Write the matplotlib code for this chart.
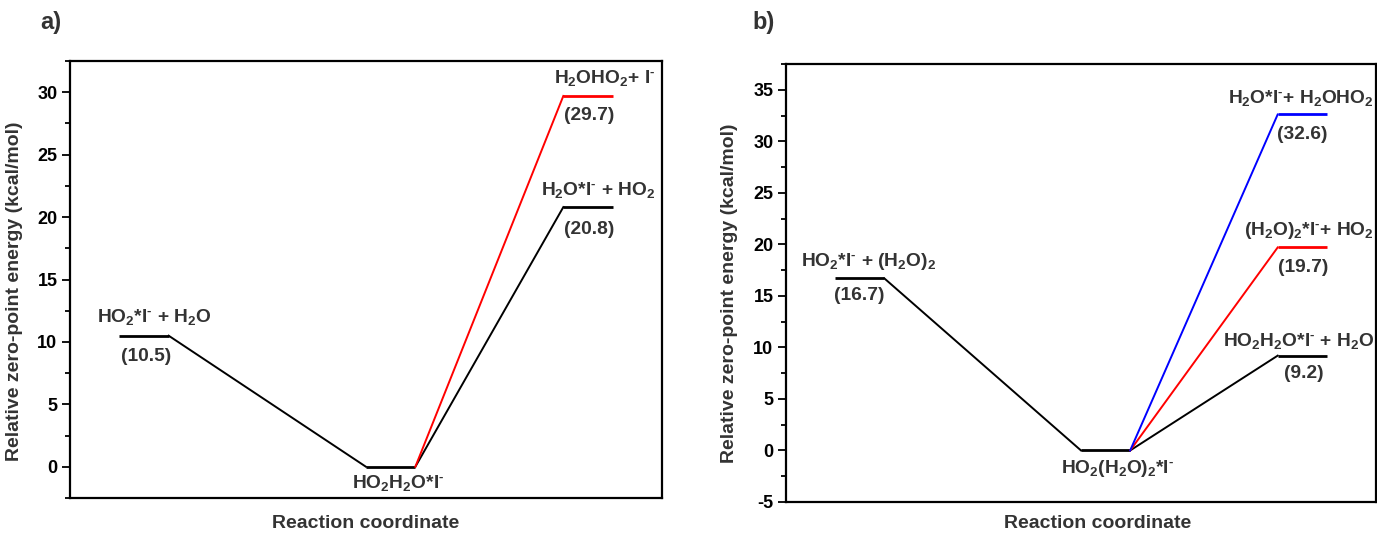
import matplotlib
matplotlib.use("Agg")
import matplotlib.pyplot as plt
from matplotlib.ticker import MultipleLocator

plt.rcParams['font.family'] = ['Liberation Sans', 'DejaVu Sans']
plt.rcParams['font.weight'] = 'bold'
plt.rcParams['mathtext.default'] = 'regular'
plt.rcParams['axes.unicode_minus'] = False

# x extent of each level (reactant, complex, products)
lvl_x = [(1, 2), (6, 7), (10, 11)]

M = '$^{\u2010}$'  # small superscript hyphen for I-

# panel a
a_reac = 10.5
a_mid = 0.0
a_prod = [20.8, 29.7]
a_prod_col = ['black', 'red']
a_labels = ['HO$_2$*I' + M + ' + H$_2$O', 'HO$_2$H$_2$O*I' + M,
            'H$_2$O*I' + M + ' + HO$_2$', 'H$_2$OHO$_2$+ I' + M]

# panel b
b_reac = 16.7
b_mid = 0.0
b_prod = [9.2, 19.7, 32.6]
b_prod_col = ['black', 'red', 'blue']
b_labels = ['HO$_2$*I' + M + ' + (H$_2$O)$_2$', 'HO$_2$(H$_2$O)$_2$*I' + M,
            'HO$_2$H$_2$O*I' + M + ' + H$_2$O', '(H$_2$O)$_2$*I' + M + '+ HO$_2$',
            'H$_2$O*I' + M + '+ H$_2$OHO$_2$']

txt_col = '#333333'
fs_txt = 13.8


def diagram(ax, reac, mid, prods, cols):
    (x0, x1), (x2, x3), (x4, x5) = lvl_x
    ax.plot([x0, x1], [reac, reac], color='black', lw=2, solid_capstyle='butt')
    ax.plot([x1, x2], [reac, mid], color='black', lw=1.4)
    ax.plot([x2, x3], [mid, mid], color='black', lw=2, solid_capstyle='butt')
    for p, c in zip(prods, cols):
        ax.plot([x3, x4], [mid, p], color=c, lw=1.4)
        ax.plot([x4, x5], [p, p], color=c, lw=2, solid_capstyle='butt')


def style(ax, ylo, yhi, xlab_x, xlab_y):
    ax.set_xlim(0, 12)
    ax.set_ylim(ylo, yhi)
    ax.set_xticks([])
    ax.yaxis.set_major_locator(MultipleLocator(5))
    ax.yaxis.set_minor_locator(MultipleLocator(2.5))
    ax.tick_params(axis='y', which='major', direction='out', length=6, width=1.3,
                   labelsize=13, pad=3)
    ax.tick_params(axis='y', which='minor', direction='out', length=3.5, width=1.3)
    for s in ax.spines.values():
        s.set_linewidth(1.6)
    ax.set_ylabel('Relative zero-point energy (kcal/mol)', fontsize=14,
                  fontweight='bold', color=txt_col)
    ax.set_xlabel('Reaction coordinate', fontsize=14, fontweight='bold', color=txt_col)
    ax.xaxis.set_label_coords(xlab_x, xlab_y)


fig = plt.figure(figsize=(13.77, 5.35), dpi=100)
W, H = 1377, 535
ax1 = fig.add_axes([70 / W, 1 - 498 / H, 592 / W, 437 / H])
ax2 = fig.add_axes([786 / W, 1 - 502 / H, 590 / W, 438 / H])

diagram(ax1, a_reac, a_mid, a_prod, a_prod_col)
style(ax1, -2.5, 32.5, 0.5, -0.038)
ax1.yaxis.set_label_coords(-0.08, 0.474)
kw = dict(fontsize=fs_txt, color=txt_col, ha='center', va='center')
ax1.text(1.71, 12.0, a_labels[0], **kw)
ax1.text(1.54, 8.8, '(%.1f)' % a_reac, **kw)
ax1.text(6.66, -1.3, a_labels[1], **kw)
ax1.text(10.71, 22.2, a_labels[2], **kw)
ax1.text(10.53, 19.0, '(%.1f)' % a_prod[0], **kw)
ax1.text(10.83, 31.1, a_labels[3], **kw)
ax1.text(10.52, 28.1, '(%.1f)' % a_prod[1], **kw)

diagram(ax2, b_reac, b_mid, b_prod, b_prod_col)
style(ax2, -5, 37.5, 0.528, -0.03)
ax2.yaxis.set_label_coords(-0.081, 0.477)
ax2.text(1.69, 18.3, b_labels[0], **kw)
ax2.text(1.48, 15.0, '(%.1f)' % b_reac, **kw)
ax2.text(6.74, -1.75, b_labels[1], **kw)
kr = dict(fontsize=fs_txt, color=txt_col, ha='right', va='center')
ax2.text(11.96, 10.6, b_labels[2], **kr)
ax2.text(10.54, 7.45, '(%.1f)' % b_prod[0], **kw)
ax2.text(11.96, 21.3, b_labels[3], **kr)
ax2.text(10.52, 17.8, '(%.1f)' % b_prod[1], **kw)
ax2.text(11.96, 34.2, b_labels[4], **kr)
ax2.text(10.5, 30.7, '(%.1f)' % b_prod[2], **kw)

fig.text(40 / W, 1 - 22 / H, 'a)', fontsize=17, color=txt_col, va='center')
fig.text(752 / W, 1 - 22 / H, 'b)', fontsize=17, color=txt_col, va='center')

fig.savefig('out.png', dpi=100)
